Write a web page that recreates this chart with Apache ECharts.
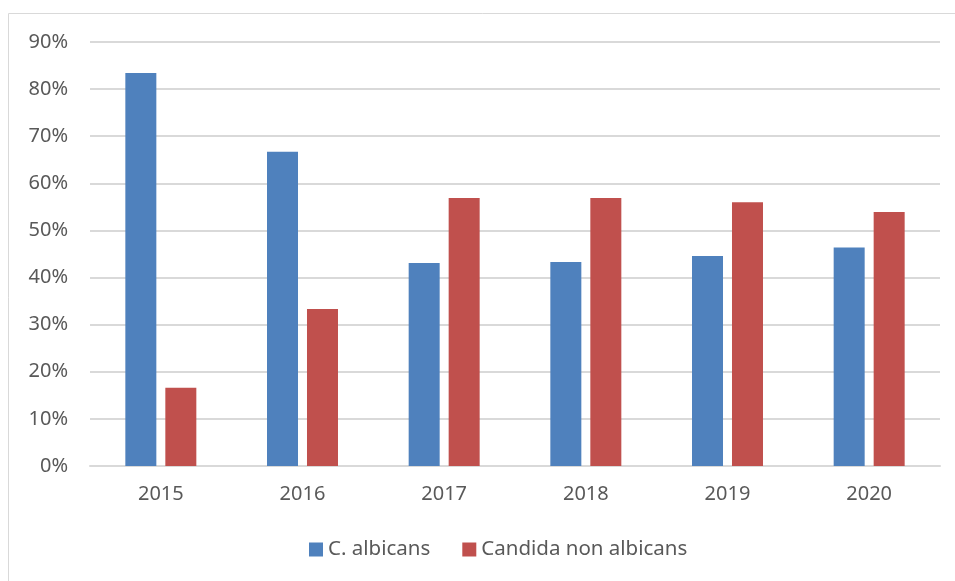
<!DOCTYPE html>
<html><head><meta charset="utf-8">
<script src="https://cdn.jsdelivr.net/npm/echarts@6/dist/echarts.min.js"></script>
<style>html,body{margin:0;padding:0;background:#fff}#c{width:955px;height:581px}</style>
</head><body><div id="c"></div>
<script>
const years = ['2015','2016','2017','2018','2019','2020'];
const albicans = [83.4, 66.7, 43.1, 43.3, 44.6, 46.4];
const nonAlbicans = [16.6, 33.3, 56.9, 56.9, 56.0, 53.9];
const seriesNames = ['C. albicans', 'Candida non albicans'];
const font = '"Noto Sans", sans-serif';
const chart = echarts.init(document.getElementById('c'));
chart.setOption({
  animation: false,
  graphic: [{type:'rect', shape:{x:8.5,y:13.5,width:1200,height:1200}, style:{fill:'none',stroke:'#d9d9d9',lineWidth:1}, silent:true, z:-1}],
  grid: {left:90, right:15, top:42, bottom:115},
  legend: {
    bottom: 16, left: 304, itemWidth: 14, itemHeight: 14, itemGap: 32,
    icon: 'rect',
    textStyle: {color:'#595959', fontSize:20.5, fontFamily:font},
    data: seriesNames
  },
  xAxis: {
    type:'category', data: years,
    axisLine:{lineStyle:{color:'#d9d9d9', width:2}}, axisTick:{show:false},
    axisLabel:{color:'#595959', fontSize:20, fontFamily:font, margin:18}
  },
  yAxis: {
    type:'value', min:0, max:90, interval:10,
    axisLine:{show:false}, axisTick:{show:false},
    splitLine:{lineStyle:{color:'#d9d9d9', width:2}},
    axisLabel:{color:'#595959', fontSize:20, fontFamily:font, margin:22, formatter: v => v + '%'}
  },
  series: [
    {name:seriesNames[0], type:'bar', data:albicans, barWidth:31, barGap:'29%', itemStyle:{color:'#4f81bd'}},
    {name:seriesNames[1], type:'bar', data:nonAlbicans, barWidth:31, itemStyle:{color:'#c0504d'}}
  ]
});
</script></body></html>
